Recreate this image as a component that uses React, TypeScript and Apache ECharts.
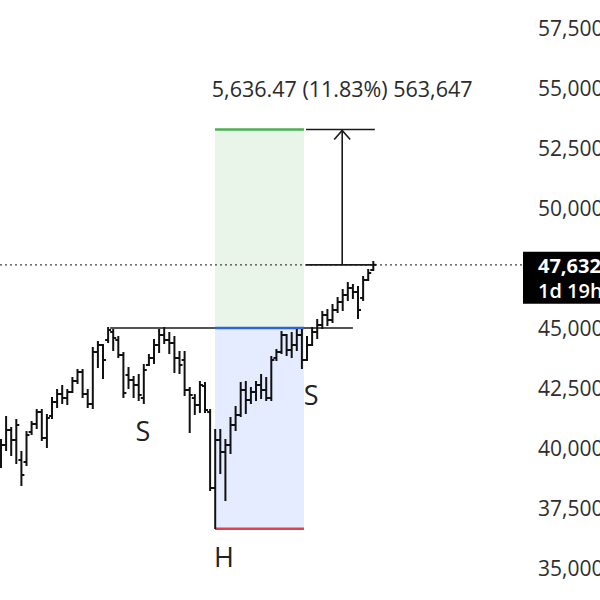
import React, { useEffect, useRef } from "react";
import * as echarts from "echarts";

// OHLC bars (one per period)
const opens = [39708, 40125, 40750, 40333, 39500, 39417, 40667, 41000, 41500, 40417, 41333, 41917, 42250, 42083, 42333, 42792, 43167, 42250, 41833, 44000, 44292, 44500, 44833, 44500, 43875, 43042, 42833, 42625, 42083, 43458, 43750, 44292, 44708, 44500, 44375, 43750, 43667, 42417, 42083, 41792, 42583, 41500, 38333, 40333, 39833, 40125, 40958, 41375, 42417, 42000, 42333, 42625, 42417, 42083, 43750, 44000, 44708, 44083, 44292, 44708, 43667, 44292, 44833, 45125, 45542, 45333, 45750, 46083, 46375, 46667, 46500, 46250, 47000, 47417];
const highs = [40333, 41292, 40833, 41167, 39833, 40667, 41083, 41583, 41583, 41375, 42083, 42417, 42583, 42417, 42917, 43250, 43250, 42417, 44167, 44417, 44292, 45000, 44917, 44625, 43958, 43333, 42958, 43042, 43458, 43875, 44500, 44917, 45000, 44792, 44625, 44000, 44000, 42500, 42208, 42750, 42708, 41583, 40750, 40750, 40333, 41250, 41708, 42708, 42750, 42500, 42750, 43042, 42917, 43792, 44083, 44833, 44708, 44792, 44917, 44917, 44625, 45000, 45333, 45667, 45750, 45958, 46250, 46583, 46875, 46792, 46708, 47125, 47417, 47750];
const lows = [39208, 39917, 39708, 39375, 38458, 39292, 40583, 40833, 40333, 40042, 41250, 41708, 41875, 41833, 42333, 42708, 42125, 41708, 41667, 43375, 42917, 44417, 44083, 43792, 42125, 42500, 42125, 42000, 41875, 43458, 43542, 44000, 44375, 43958, 43167, 43125, 42208, 40667, 41417, 41500, 41500, 38250, 36667, 38958, 37833, 39792, 40750, 41333, 41458, 41875, 42000, 42083, 42000, 42000, 43667, 43958, 43875, 43792, 44083, 43333, 43667, 44292, 44583, 45000, 45125, 45250, 45667, 45750, 46167, 46250, 45417, 46167, 47000, 47417];
const closes = [40125, 40750, 40333, 40958, 38875, 40542, 41000, 41500, 40417, 41250, 41917, 42250, 42083, 42333, 42792, 43167, 42250, 41833, 44000, 44292, 43667, 44917, 44583, 43875, 42292, 42833, 42625, 42208, 43250, 43750, 44292, 44708, 44500, 44375, 43750, 43458, 42417, 42208, 41792, 42625, 41583, 38333, 40333, 39833, 40125, 40958, 41375, 42417, 42000, 42333, 42625, 42417, 42083, 43667, 44000, 44708, 44083, 44292, 44708, 43667, 44292, 44833, 45125, 45542, 45333, 45750, 46083, 46375, 46667, 46500, 45750, 47000, 47292, 47632];

// price scale
const yMin = 35000;
const yMax = 57500;
const yInterval = 2500;
const hiddenTick = 47500;

// last price / countdown
const lastPrice = 47632;
const countdown = "1d 19h";

// head & shoulders annotations (data units: bar index, price)
const necklineSpan = [21.4, 69.0];
const necklinePrice = 45000;
const boxSpan = [41.96, 59.4];
const targetPrice = 53268;
const entryPrice = 45000;
const stopPrice = 36640;
const measureSpan = [59.8, 73.3];
const measureArrowX = 66.9;
const measureText = "5,636.47 (11.83%) 563,647";
const measureTextPrice = 55000;
const patternLabels = [
  { text: "S", x: 27.8, price: 40750 },
  { text: "H", x: 43.7, price: 35500 },
  { text: "S", x: 60.8, price: 42250 },
];

const FONT = "'Open Sans', 'Noto Sans', sans-serif";

export default function App() {
  const ref = useRef<HTMLDivElement>(null);
  useEffect(() => {
    if (!ref.current) return;
    const chart = echarts.init(ref.current, undefined, { renderer: "svg" });
    const barData = opens.map((o, i) => [i, o, highs[i], lows[i], closes[i]]);

    const option: any = {
      animation: false,
      backgroundColor: "#ffffff",
      grid: { left: 0, right: 77, top: 28, bottom: 32, containLabel: false, outerBoundsMode: "none" },
      xAxis: { type: "value", min: -0.196, max: 102.35, show: false },
      yAxis: {
        type: "value",
        position: "right",
        min: yMin,
        max: yMax,
        interval: yInterval,
        axisLine: { show: false },
        axisTick: { show: false },
        splitLine: { show: false },
        axisLabel: {
          margin: 15,
          color: "#2e2e2e",
          fontSize: 21,
          fontFamily: FONT,
          formatter: (v: number) => (v === hiddenTick ? "" : v.toLocaleString("en-US")),
        },
      },
      series: [
        {
          type: "custom",
          name: "annotations",
          clip: false,
          z: 1,
          data: [[0]],
          renderItem: (params: any, api: any) => {
            const cs = params.coordSys;
            const c = (x: number, y: number) => api.coord([x, y]);
            const bl = c(boxSpan[0], targetPrice);
            const br = c(boxSpan[1], entryPrice);
            const bs = c(boxSpan[1], stopPrice);
            const lp = c(0, lastPrice)[1];
            const nl = c(necklineSpan[0], necklinePrice);
            const nr = c(necklineSpan[1], necklinePrice);
            const mt0 = c(measureSpan[0], targetPrice);
            const mt1 = c(measureSpan[1], targetPrice);
            const ax = c(measureArrowX, targetPrice)[0];
            const tt = c(measureArrowX, measureTextPrice);
            const children: any[] = [
              { type: "rect", shape: { x: bl[0], y: bl[1], width: br[0] - bl[0], height: br[1] - bl[1] }, style: { fill: "rgba(76,175,80,0.13)" } },
              { type: "rect", shape: { x: bl[0], y: br[1], width: br[0] - bl[0], height: bs[1] - br[1] }, style: { fill: "rgba(41,98,255,0.12)" } },
              { type: "line", shape: { x1: cs.x, y1: lp, x2: cs.x + cs.width, y2: lp }, style: { stroke: "#444444", lineWidth: 1.3, lineDash: [2, 3] } },
              { type: "line", shape: { x1: nl[0], y1: nl[1], x2: nr[0], y2: nr[1] }, style: { stroke: "#1a1a1a", lineWidth: 1.6 } },
              { type: "line", shape: { x1: bl[0], y1: bl[1], x2: br[0], y2: bl[1] }, style: { stroke: "#4caf50", lineWidth: 2.5 } },
              { type: "line", shape: { x1: bl[0], y1: br[1], x2: br[0], y2: br[1] }, style: { stroke: "#2f63d6", lineWidth: 2.5 } },
              { type: "line", shape: { x1: bl[0], y1: bs[1], x2: br[0], y2: bs[1] }, style: { stroke: "#e0414f", lineWidth: 2.5 } },
              { type: "line", shape: { x1: mt0[0], y1: mt0[1], x2: mt1[0], y2: mt1[1] }, style: { stroke: "#1a1a1a", lineWidth: 1.6 } },
              { type: "line", shape: { x1: mt0[0], y1: lp, x2: mt1[0], y2: lp }, style: { stroke: "#1a1a1a", lineWidth: 1.6 } },
              { type: "line", shape: { x1: ax, y1: lp, x2: ax, y2: mt0[1] }, style: { stroke: "#1a1a1a", lineWidth: 1.6 } },
              { type: "polyline", shape: { points: [[ax - 8, mt0[1] + 10], [ax, mt0[1] + 1], [ax + 8, mt0[1] + 10]] }, style: { stroke: "#1a1a1a", lineWidth: 1.6, fill: "none" } },
              {
                type: "text",
                x: tt[0],
                y: tt[1],
                style: { text: measureText, fill: "#2a2a2a", font: `21.5px ${FONT}`, align: "center", verticalAlign: "middle" },
              },
            ];
            patternLabels.forEach((p) => {
              const pt = c(p.x, p.price);
              children.push({
                type: "text",
                x: pt[0],
                y: pt[1],
                style: { text: p.text, fill: "#222222", font: `27px ${FONT}`, align: "center", verticalAlign: "middle" },
              });
            });
            const right = cs.x + cs.width;
            children.push({ type: "rect", shape: { x: right, y: lp - 13, width: 600 - right + 10, height: 52 }, style: { fill: "#000000" } });
            children.push({
              type: "text",
              x: right + 15,
              y: lp + 1,
              style: { text: lastPrice.toLocaleString("en-US"), fill: "#ffffff", font: `bold 20px ${FONT}`, align: "left", verticalAlign: "middle" },
            });
            children.push({
              type: "text",
              x: right + 15,
              y: lp + 26,
              style: { text: countdown, fill: "#ffffff", font: `600 20px ${FONT}`, align: "left", verticalAlign: "middle" },
            });
            return { type: "group", children };
          },
        },
        {
          type: "custom",
          name: "ohlc",
          z: 2,
          data: barData,
          encode: { x: 0, y: [1, 2, 3, 4] },
          renderItem: (params: any, api: any) => {
            const i = api.value(0);
            const pO = api.coord([i, api.value(1)]);
            const pH = api.coord([i, api.value(2)]);
            const pL = api.coord([i, api.value(3)]);
            const pC = api.coord([i, api.value(4)]);
            const x = pO[0];
            const st = { stroke: "#111111", lineWidth: 2 };
            return {
              type: "group",
              children: [
                { type: "line", shape: { x1: x, y1: pH[1] - 1, x2: x, y2: pL[1] + 1 }, style: st },
                { type: "line", shape: { x1: x - 3, y1: pO[1], x2: x, y2: pO[1] }, style: st },
                { type: "line", shape: { x1: x, y1: pC[1], x2: x + 3, y2: pC[1] }, style: st },
              ],
            };
          },
        },
      ],
    };
    chart.setOption(option);
    return () => chart.dispose();
  }, []);
  return <div ref={ref} style={{ position: "fixed", left: 0, top: 0, width: 600, height: 600, overflow: "hidden" }} />;
}
